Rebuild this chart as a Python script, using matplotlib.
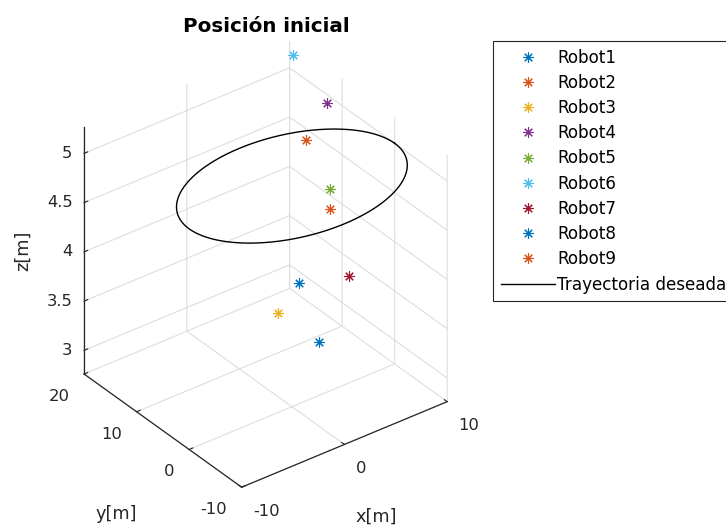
import numpy as np
import matplotlib
matplotlib.use("Agg")
import matplotlib.pyplot as plt
from matplotlib.ticker import NullFormatter
from mpl_toolkits.mplot3d import proj3d

# ---- data -------------------------------------------------------------
robot_labels = ["Robot1", "Robot2", "Robot3", "Robot4", "Robot5",
                "Robot6", "Robot7", "Robot8", "Robot9"]
robot_x = [0.62, 5.46, -2.41, 8.50, 6.26, 9.85, 5.58, 1.71, 5.24]
robot_y = [-4.0, 8.0, -2.0, 10.0, 5.0, 19.0, 0.0, 2.0, 3.0]
robot_z = [3.54, 4.92, 3.89, 5.09, 4.51, 5.18, 3.84, 3.87, 4.42]

# desired trajectory: horizontal circle
traj_label = "Trayectoria deseada"
traj_radius = 10.0
traj_center = (0.0, 0.0)
traj_height = 5.0

x_ticks = [-10, 0, 10]
y_ticks = [-10, 0, 10, 20]
z_ticks = [3, 3.5, 4, 4.5, 5]
x_tick_labels = ["-10", "0", "10"]
y_tick_labels = ["-10", "0", "10", "20"]
z_tick_labels = ["3", "3.5", "4", "4.5", "5"]
x_lim = (-10, 10)
y_lim = (-10, 20)
z_lim = (2.76, 5.27)

title_text = "Posición inicial"
x_label, y_label, z_label = "x[m]", "y[m]", "z[m]"

# MATLAB default colour order
color_order = ["#0072BD", "#D95319", "#EDB120", "#7E2F8E",
               "#77AC30", "#4DBEEE", "#A2142F"]

# ---- style ------------------------------------------------------------
plt.rcParams["font.family"] = ["DejaVu Sans"]
plt.rcParams["grid.color"] = "#dedede"
plt.rcParams["grid.linewidth"] = 0.8
plt.rcParams["grid.linestyle"] = "-"
axis_color = "#262626"
tick_fs = 11.8
label_fs = 12.8

W, H = 726, 527
fig = plt.figure(figsize=(W / 100, H / 100), dpi=100)
side = 457.0
left_px, bottom_px = 30.95, 28.1
ax = fig.add_axes([left_px / W, bottom_px / H, side / W, side / H],
                  projection="3d")
ax.set_proj_type("ortho")
ax.view_init(elev=33.15, azim=-127.28)
ax.set_box_aspect((258.4, 260.3, 295.4))

ax.set_xlim(*x_lim)
ax.set_ylim(*y_lim)
ax.set_zlim(*z_lim)
ax.set_xticks(x_ticks)
ax.set_yticks(y_ticks)
ax.set_zticks(z_ticks)

for axis in (ax.xaxis, ax.yaxis, ax.zaxis):
    axis.set_pane_color((1, 1, 1, 0))
    axis.line.set_color(axis_color)
    axis.line.set_linewidth(0.9)
    axis.set_major_formatter(NullFormatter())
    axis._axinfo["grid"].update(color="#dedede", linewidth=0.8,
                                linestyle="-")
    axis._axinfo["tick"].update(inward_factor=0.0, outward_factor=0.22)
ax.tick_params(colors=axis_color, width=0.8)
ax.grid(True)

# trajectory
t = np.linspace(0, 2 * np.pi, 361)
cx = traj_center[0] + traj_radius * np.cos(t)
cy = traj_center[1] + traj_radius * np.sin(t)
cz = np.full_like(t, traj_height)
(traj_line,) = ax.plot(cx, cy, cz, color="black", lw=1.0, label=traj_label)

# robots
handles = []
for i, name in enumerate(robot_labels):
    (h,) = ax.plot([robot_x[i]], [robot_y[i]], [robot_z[i]],
                   linestyle="none", marker=(8, 2, 0), markersize=7.5,
                   markeredgewidth=0.8,
                   color=color_order[i % len(color_order)], label=name)
    handles.append(h)
handles.append(traj_line)

# ---- tick labels and axis labels placed via the 3D projection --------
M = ax.get_proj()


def proj(x, y, z):
    xs, ys, _ = proj3d.proj_transform(x, y, z, M)
    return float(xs), float(ys)


def put(text, xyz, dx, dy, ha, va, fs, rot=0):
    ax.annotate(text, xy=proj(*xyz), xycoords="data",
                xytext=(dx, dy), textcoords="offset pixels",
                ha=ha, va=va, fontsize=fs, color=axis_color,
                rotation=rot, annotation_clip=False)


for v, s in zip(z_ticks, z_tick_labels):
    put(s, (x_lim[0], y_lim[1], v), -11.5, 0, "right", "center", tick_fs)
for v, s in zip(y_ticks, y_tick_labels):
    put(s, (x_lim[0], v, z_lim[0]), -14.5, -22.5, "right", "center", tick_fs)
for v, s in zip(x_ticks, x_tick_labels):
    put(s, (v, y_lim[0], z_lim[0]), 11.5, -24, "left", "center", tick_fs)

put(x_label, (np.mean(x_lim), y_lim[0], z_lim[0]), 31.5, -72,
    "center", "center", label_fs)
put(y_label, (x_lim[0], np.mean(y_lim), z_lim[0]), -46.8, -83.3,
    "center", "center", label_fs)
put(z_label, (x_lim[0], y_lim[1], np.mean(z_lim)), -61.5, -0.6,
    "center", "center", label_fs, rot=90)

fig.text(266.5 / W, 1 - 31.7 / H, title_text, ha="center", va="baseline",
         fontsize=14.3, fontweight="bold", color="black")

leg = fig.legend(handles=handles, labels=[h.get_label() for h in handles],
                 loc="upper left", bbox_to_anchor=(493.3 / W, 1 - 41 / H),
                 bbox_transform=fig.transFigure, borderaxespad=0,
                 frameon=True, fancybox=False, edgecolor=axis_color,
                 framealpha=1, fontsize=12.1, labelspacing=0.43,
                 handlelength=3.2, handletextpad=0.15, borderpad=0.45)
leg.get_frame().set_linewidth(0.8)

fig.savefig("out.png", dpi=100)
